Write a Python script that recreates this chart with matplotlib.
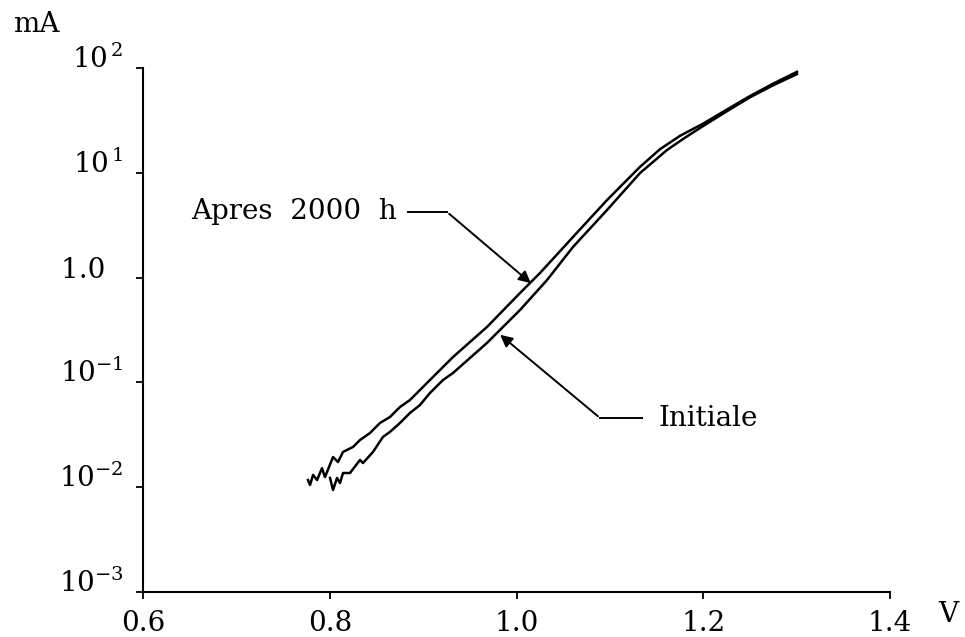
import matplotlib
matplotlib.use("Agg")
import matplotlib.pyplot as plt
from matplotlib.ticker import NullLocator

# I(V) curves, V in volts, I in mA
v_apres = [0.7767, 0.7789, 0.7821, 0.7864, 0.7917, 0.7949, 0.8035, 0.8088, 0.8142,
           0.8249, 0.8324, 0.8431, 0.8538, 0.8645, 0.8752, 0.8859, 0.8966, 0.9073,
           0.9320, 0.9684, 1.0038, 1.0252, 1.0605, 1.0970, 1.1323, 1.1537, 1.1750,
           1.2000, 1.2250, 1.2500, 1.2750, 1.3004]
i_apres = [0.0117, 0.0105, 0.0131, 0.0117, 0.0152, 0.0125, 0.0194, 0.0174, 0.0217,
           0.0242, 0.0282, 0.0329, 0.0410, 0.0468, 0.0582, 0.0679, 0.0846, 0.1054,
           0.1746, 0.338, 0.713, 1.107, 2.44, 5.50, 11.4, 16.8, 22.5,
           29.5, 40.0, 54.0, 71.0, 92.0]

v_init = [0.8003, 0.8035, 0.8078, 0.8110, 0.8142, 0.8217, 0.8324, 0.8356, 0.8463,
          0.8570, 0.8645, 0.8752, 0.8859, 0.8966, 0.9073, 0.9213, 0.9320, 0.9684,
          1.0038, 1.0327, 1.0605, 1.0970, 1.1323, 1.1612, 1.1800, 1.2000, 1.2250,
          1.2500, 1.2750, 1.3004]
i_init = [0.01225, 0.0094, 0.01225, 0.01097, 0.01366, 0.01366, 0.0182, 0.0170, 0.0217,
          0.0302, 0.0337, 0.0410, 0.0511, 0.0608, 0.0792, 0.1054, 0.123, 0.238,
          0.491, 0.948, 1.96, 4.42, 9.95, 16.5, 21.5,
          28.0, 38.5, 52.5, 68.5, 87.5]

x_ticks = [0.6, 0.8, 1.0, 1.2, 1.4]
x_labels = ["0.6", "0.8", "1.0", "1.2", "1.4"]
y_ticks = [1e-3, 1e-2, 1e-1, 1.0, 1e1, 1e2]
y_labels = [r"$10^{-3}$", r"$10^{-2}$", r"$10^{-1}$", "1.0  ", r"$10^{\,1}$", r"$10^{\,2}$"]

plt.rcParams["font.family"] = "DejaVu Serif"
plt.rcParams["mathtext.fontset"] = "dejavuserif"
fs = 20

fig = plt.figure(figsize=(9.65, 6.37), dpi=100)
ax = fig.add_axes([143 / 965, 1 - 592 / 637, 747 / 965, 524 / 637])

ax.plot(v_apres, i_apres, color="black", lw=1.8)
ax.plot(v_init, i_init, color="black", lw=1.8)

ax.set_yscale("log")
ax.set_xlim(0.6, 1.4)
ax.set_ylim(1e-3, 1e2)
ax.yaxis.set_minor_locator(NullLocator())
ax.set_xticks(x_ticks)
ax.set_xticklabels(x_labels)
ax.set_yticks(y_ticks)
ax.set_yticklabels(y_labels)
for lab in ax.get_yticklabels():
    lab.set_verticalalignment("baseline")

ax.tick_params(axis="both", direction="out", length=5, width=1.3, labelsize=fs)
ax.tick_params(axis="x", pad=8)
ax.tick_params(axis="y", pad=9)
for side in ["top", "right"]:
    ax.spines[side].set_visible(False)
for side in ["left", "bottom"]:
    ax.spines[side].set_linewidth(1.5)

# axis units
fig.text(36 / 965, 1 - 24 / 637, "mA", fontsize=fs, ha="center", va="center")
fig.text(948 / 965, 1 - 614 / 637, "V", fontsize=fs, ha="center", va="center")

# labels with leader lines and arrows
ax.text(0.8720, 4.23, "Apres  2000  h", fontsize=fs, ha="right", va="center")
ax.plot([0.8838, 0.9256], [4.23, 4.23], color="black", lw=1.4)
ax.annotate("", xy=(1.0177, 0.850), xytext=(0.9256, 4.23),
            arrowprops=dict(arrowstyle="-|>", color="black", lw=1.4, mutation_scale=18))

ax.text(1.1516, 0.0457, "Initiale", fontsize=fs, ha="left", va="center")
ax.plot([1.0895, 1.1344], [0.0457, 0.0457], color="black", lw=1.4)
ax.annotate("", xy=(0.9802, 0.296), xytext=(1.0895, 0.0457),
            arrowprops=dict(arrowstyle="-|>", color="black", lw=1.4, mutation_scale=18))

fig.savefig("out.png", dpi=100)
